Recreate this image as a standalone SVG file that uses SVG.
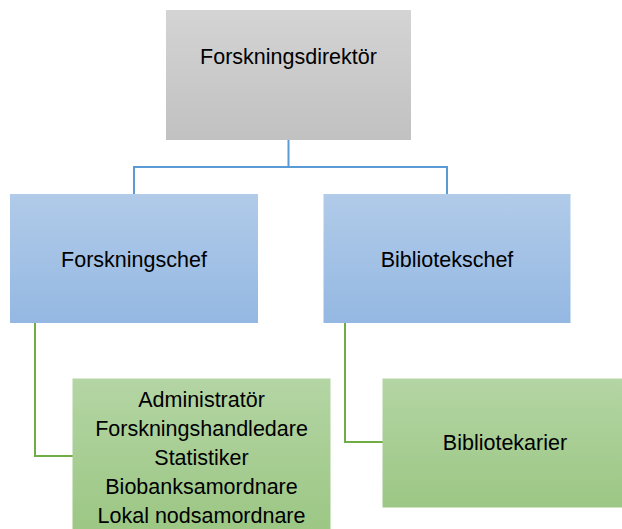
<svg xmlns="http://www.w3.org/2000/svg" width="622" height="529" viewBox="0 0 622 529">
<defs>
<linearGradient id="gGray" x1="0" y1="0" x2="0" y2="1"><stop offset="0" stop-color="#d4d4d4"/><stop offset="1" stop-color="#c1c1c1"/></linearGradient>
<linearGradient id="gBlue" x1="0" y1="0" x2="0" y2="1"><stop offset="0" stop-color="#b1cbe9"/><stop offset="1" stop-color="#94b8e2"/></linearGradient>
<linearGradient id="gGreen" x1="0" y1="0" x2="0" y2="1"><stop offset="0" stop-color="#b4d5a4"/><stop offset="1" stop-color="#9cc784"/></linearGradient>
<style>
text{font-family:"Liberation Sans",Arial,sans-serif;font-size:21.5px;fill:#000;text-anchor:middle}
.cb{fill:none;stroke:#5b9bd5;stroke-width:2}
.cg{fill:none;stroke:#70ad47;stroke-width:2}
</style>
</defs>
<g id="connectors">
<path class="cb" d="M288.5 140 V167 M134 194 V167 H447 V194"/>
<path class="cg" d="M35 323 V456 H73"/>
<path class="cg" d="M345 323 V442 H383"/>
</g>
<g id="n-direktor">
<rect x="166" y="10" width="245" height="130" fill="url(#gGray)"/>
<text x="288.5" y="64">Forskningsdirektör</text>
</g>
<g id="n-forskningschef">
<rect x="10" y="194" width="248" height="129" fill="url(#gBlue)"/>
<text x="134" y="267">Forskningschef</text>
</g>
<g id="n-bibliotekschef">
<rect x="323.5" y="194" width="247" height="129" fill="url(#gBlue)"/>
<text x="447" y="267">Bibliotekschef</text>
</g>
<g id="n-staff">
<rect x="72.5" y="378.5" width="258" height="152" fill="url(#gGreen)"/>
<text x="201.5" y="406.5">Administratör</text>
<text x="201.5" y="435.5">Forskningshandledare</text>
<text x="201.5" y="464.5">Statistiker</text>
<text x="201.5" y="493.5">Biobanksamordnare</text>
<text x="201.5" y="522.5">Lokal nodsamordnare</text>
</g>
<g id="n-bibliotekarier">
<rect x="382.5" y="378.5" width="240" height="129" fill="url(#gGreen)"/>
<text x="505" y="450">Bibliotekarier</text>
</g>
</svg>
